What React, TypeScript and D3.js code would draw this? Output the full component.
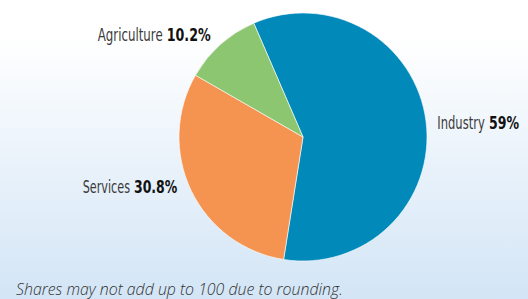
import React, { useLayoutEffect, useRef } from "react";
import * as d3 from "d3";

const sectors = ["Industry", "Services", "Agriculture"];
const shares = [59, 30.8, 10.2];
const shareLabels = ["59%", "30.8%", "10.2%"];
const colors = ["#0189BA", "#F59351", "#8DC670"];
const footnote = "Shares may not add up to 100 due to rounding.";

const W = 528;
const H = 299;

const App = () => {
  const svgRef = useRef<SVGSVGElement>(null);
  const cx = 303;
  const cy = 137;
  const r = 124;
  const start = (-23.4 * Math.PI) / 180;

  const pie = d3
    .pie<number>()
    .sort(null)
    .value((d) => d)
    .startAngle(start)
    .endAngle(start + 2 * Math.PI);
  const arcs = pie(shares);
  const arc = d3.arc<d3.PieArcDatum<number>>().innerRadius(0).outerRadius(r);

  // name x/width, value x/width, baseline
  const labelPos = [
    { nx: 437.3, nw: 47.5, vx: 489, vw: 30, y: 128.5 },
    { nx: 82.7, nw: 47.3, vx: 134, vw: 43.3, y: 192.7 },
    { nx: 97.7, nw: 65, vx: 166.7, vw: 44, y: 40.7 },
  ];
  const font = "'DejaVu Sans Condensed', 'Open Sans', sans-serif";

  // squeeze each text horizontally to the width it has in the reference
  useLayoutEffect(() => {
    d3.select(svgRef.current)
      .selectAll<SVGTextElement, unknown>("text[data-w]")
      .each(function () {
        const w = +(this.getAttribute("data-w") || 0);
        const x = +(this.getAttribute("data-x") || 0);
        const y = +(this.getAttribute("data-y") || 0);
        const len = this.getComputedTextLength();
        const k = len > 0 ? w / len : 1;
        d3.select(this).attr("transform", `translate(${x},${y}) scale(${k},1)`);
      });
  }, []);

  return (
    <svg ref={svgRef} width={W} height={H} style={{ position: "absolute", left: 0, top: 0 }}>
      <defs>
        <linearGradient id="bg" x1="0" y1="0" x2="0" y2="1">
          <stop offset="0" stopColor="#ffffff" />
          <stop offset="0.12" stopColor="#ffffff" />
          <stop offset="1" stopColor="#D3E5F6" />
        </linearGradient>
      </defs>
      <rect width={W} height={H} fill="url(#bg)" />
      <g transform={`translate(${cx},${cy})`}>
        {arcs.map((a, i) => (
          <path key={sectors[i]} d={arc(a) || ""} fill={colors[i]} stroke="#ffffff" strokeWidth={0.6} />
        ))}
      </g>
      {sectors.map((s, i) => (
        <g key={s} fontFamily={font} fontSize={17.5}>
          <text
            data-x={labelPos[i].nx}
            data-y={labelPos[i].y}
            data-w={labelPos[i].nw}
            transform={`translate(${labelPos[i].nx},${labelPos[i].y})`}
            fill="#3a3a3a"
          >
            {s}
          </text>
          <text
            data-x={labelPos[i].vx}
            data-y={labelPos[i].y}
            data-w={labelPos[i].vw}
            transform={`translate(${labelPos[i].vx},${labelPos[i].y})`}
            fontWeight="bold"
            fill="#111111"
          >
            {shareLabels[i]}
          </text>
        </g>
      ))}
      <text
        data-x={16}
        data-y={295}
        data-w={327}
        transform="translate(16,295)"
        fontFamily="'Open Sans', sans-serif"
        fontStyle="italic"
        fontWeight={300}
        fontSize={17}
        fill="#333333"
      >
        {footnote}
      </text>
    </svg>
  );
};

export default App;
